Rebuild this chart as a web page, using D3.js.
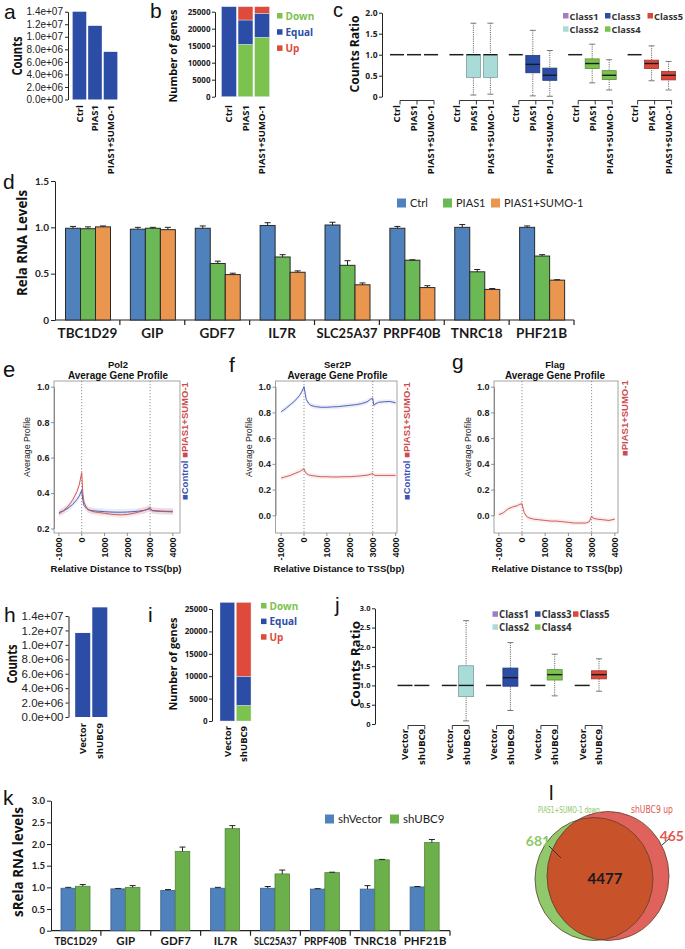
<!DOCTYPE html>
<html>
<head>
<meta charset="utf-8">
<script src="https://cdn.jsdelivr.net/npm/d3@7"></script>
<style>
html,body{margin:0;padding:0;background:#fff;}
svg{display:block;}
</style>
</head>
<body>
<svg id="fig" width="685" height="949" xmlns="http://www.w3.org/2000/svg"></svg>
<script>
// ================= DATA =================
// (a) counts
const aSamples = ["Ctrl", "PIAS1", "PIAS1+SUMO-1"];
const aCounts = [1.4e7, 1.175e7, 7.6e6];
const countTicks = [0, 2e6, 4e6, 6e6, 8e6, 1e7, 1.2e7, 1.4e7];
// (b) differential genes
const deKeys = ["Down", "Equal", "Up"];
const bDown = [0, 15400, 17470];
const bEqual = [26470, 7160, 7060];
const bUp = [0, 3910, 1940];
const geneTicks = [0, 5000, 10000, 15000, 20000, 25000];
// (c) counts ratio boxplots  [lowWhisker, q1, median, q3, highWhisker]
const classNames = ["Class1", "Class2", "Class3", "Class4", "Class5"];
const cConditions = ["Ctrl", "PIAS1", "PIAS1+SUMO-1"];
const cCtrl  = [[1,1,1,1,1],[1,1,1,1,1],[1,1,1,1,1],[1,1,1,1,1],[1,1,1,1,1]];
const cPIAS1 = [[1,1,1,1,1],[0.04,0.46,1.0,1.0,1.75],[0.02,0.57,0.77,0.98,1.58],[0.33,0.67,0.79,0.90,1.25],[0.38,0.67,0.79,0.87,1.21]];
const cSUMO  = [[1,1,1,1,1],[0.06,0.46,1.0,1.0,1.75],[0.01,0.39,0.51,0.68,1.10],[0.16,0.41,0.51,0.62,0.88],[0.16,0.40,0.51,0.60,0.84]];
const cTicks = [0, 0.5, 1.0, 1.5, 2.0];
// (d) qPCR
const qGenes = ["TBC1D29", "GIP", "GDF7", "IL7R", "SLC25A37", "PRPF40B", "TNRC18", "PHF21B"];
const dGroups = ["Ctrl", "PIAS1", "PIAS1+SUMO-1"];
const dCtrl     = [0.99, 0.98, 0.99, 1.02, 1.025, 0.99, 1.00, 1.00];
const dCtrlErr  = [0.02, 0.02, 0.025, 0.03, 0.03, 0.02, 0.03, 0.015];
const dPIAS1    = [0.985, 0.99, 0.61, 0.68, 0.59, 0.645, 0.52, 0.69];
const dPIAS1Err = [0.02, 0.01, 0.025, 0.025, 0.05, 0.005, 0.025, 0.015];
const dSUMO     = [1.005, 0.975, 0.49, 0.515, 0.38, 0.35, 0.33, 0.43];
const dSUMOErr  = [0.01, 0.025, 0.015, 0.015, 0.02, 0.02, 0.01, 0.005];
const dTicks = [0, 0.5, 1.0, 1.5];
// (e,f,g) average gene profiles
const profilePos = [-1000,-800,-600,-400,-200,-100,0,50,100,200,300,500,750,1000,1250,1500,1750,2000,2250,2500,2750,2900,3000,3050,3100,3250,3500,3750,4000];
const profileMarks = [0, 3000];
const profileTicks = [-1000, 0, 1000, 2000, 3000, 4000];
const pol2Control = [0.29,0.30,0.315,0.335,0.365,0.385,0.415,0.36,0.33,0.315,0.305,0.30,0.297,0.295,0.293,0.292,0.292,0.293,0.295,0.298,0.303,0.308,0.312,0.305,0.302,0.300,0.298,0.297,0.297];
const pol2SUMO    = [0.283,0.30,0.325,0.36,0.41,0.45,0.515,0.40,0.35,0.32,0.305,0.295,0.29,0.286,0.281,0.278,0.277,0.279,0.285,0.293,0.302,0.311,0.318,0.306,0.300,0.298,0.296,0.295,0.293];
const ser2Control = [0.805,0.83,0.86,0.89,0.93,0.96,1.0,0.95,0.90,0.87,0.855,0.845,0.84,0.84,0.843,0.845,0.85,0.855,0.86,0.868,0.882,0.902,0.91,0.855,0.865,0.878,0.883,0.885,0.875];
const ser2SUMO    = [0.29,0.30,0.31,0.325,0.34,0.35,0.36,0.34,0.325,0.315,0.31,0.305,0.30,0.30,0.298,0.298,0.30,0.30,0.303,0.307,0.312,0.318,0.325,0.315,0.31,0.31,0.31,0.31,0.31];
const flagSUMO    = [0.005,0.02,0.05,0.065,0.075,0.085,0.09,0.05,0.02,-0.01,-0.02,-0.03,-0.035,-0.04,-0.045,-0.045,-0.05,-0.055,-0.06,-0.06,-0.06,-0.05,-0.005,-0.02,-0.025,-0.03,-0.035,-0.04,-0.03];
const pol2Ticks = [0.2, 0.4, 0.6, 0.8, 1.0];
const ser2Ticks = [0.0, 0.2, 0.4, 0.6, 0.8, 1.0];
// (h) counts
const hSamples = ["Vector", "shUBC9"];
const hCounts = [1.165e7, 1.52e7];
// (i) differential genes
const iDown = [0, 3500];
const iEqual = [26470, 6500];
const iUp = [0, 16470];
// (j) counts ratio boxplots
const jConditions = ["Vector", "shUBC9"];
const jVector = [[1,1,1,1,1],[1,1,1,1,1],[1,1,1,1,1],[1,1,1,1,1],[1,1,1,1,1]];
const jShUBC9 = [[1,1,1,1,1],[0.08,0.71,1.0,1.51,2.68],[0.35,0.98,1.2,1.45,2.11],[0.73,1.14,1.28,1.41,1.81],[0.85,1.17,1.28,1.38,1.69]];
const jTicks = [0, 0.5, 1.0, 1.5, 2.0, 2.5, 3.0];
// (k) qPCR
const kGroups = ["shVector", "shUBC9"];
const kVector    = [0.98, 0.965, 0.93, 0.98, 0.98, 0.96, 0.96, 1.01];
const kVectorErr = [0.02, 0.01, 0.02, 0.02, 0.04, 0.01, 0.08, 0.01];
const kShUBC9    = [1.025, 1.0, 1.83, 2.355, 1.31, 1.34, 1.635, 2.035];
const kShUBC9Err = [0.04, 0.04, 0.1, 0.07, 0.09, 0.01, 0.01, 0.07];
const kTicks = [0, 0.5, 1.0, 1.5, 2.0, 2.5, 3.0];
// (l) Venn
const vennSets = ["PIAS1+SUMO-1 down", "shUBC9 up"];
const vennOnly = [681, 465];
const vennShared = 4477;

// ================= STYLE =================
const FA = "'Liberation Sans', Arial, Helvetica, sans-serif";
const FO = "'Open Sans', 'Liberation Sans', sans-serif";
const FC = "Lato, 'Open Sans', 'Liberation Sans', sans-serif";
const FN = "'Liberation Sans Narrow', 'DejaVu Sans Condensed', 'Liberation Sans', sans-serif";
const NAVY = "#2c4da6", DGREEN = "#7cc24f", DRED = "#de4b3a";
const deColors = { Down: DGREEN, Equal: NAVY, Up: DRED };
const classColors = ["#a07cc8", "#a9dcd8", "#2c4da6", "#7cc24f", "#d9483a"];
const qColors = ["#4f81bd", "#6bb956", "#ea964e"];
const kColors = ["#4f81bd", "#6cb04c"];
const LBLUE = "#3d52b5", LRED = "#cc4b4b";

const svg = d3.select("#fig");

function sci(v) {
  if (v === 0) return "0.0e+00";
  const e = Math.floor(Math.log10(v) + 1e-9);
  const m = v / Math.pow(10, e);
  return m.toFixed(1) + "e+" + String(e).padStart(2, "0");
}
const dec = v => v === 0 ? "0" : d3.format(".1f")(v);

function fit(sel, maxW) {
  sel.each(function () {
    if (this.getComputedTextLength() > maxW) {
      d3.select(this).attr("textLength", maxW).attr("lengthAdjust", "spacingAndGlyphs");
    }
  });
}
function txt(x, y, s, o = {}) {
  const t = svg.append("text").attr("x", x).attr("y", y).text(s)
    .attr("font-family", o.family || FA).attr("font-size", o.size || 11)
    .attr("font-weight", o.weight || "normal").attr("fill", o.fill || "#111")
    .attr("text-anchor", o.anchor || "start");
  if (o.len) t.attr("textLength", o.len).attr("lengthAdjust", "spacingAndGlyphs");
  return t;
}
function vtxt(cx, y, s, o = {}) {
  const size = o.size || 11;
  const t = svg.append("text")
    .attr("transform", `translate(${cx + size * 0.36},${y}) rotate(-90)`)
    .attr("text-anchor", o.anchor || "middle").text(s)
    .attr("font-family", o.family || FA).attr("font-size", size)
    .attr("font-weight", o.weight || "normal").attr("fill", o.fill || "#111");
  if (o.len) t.attr("textLength", o.len).attr("lengthAdjust", "spacingAndGlyphs");
  return t;
}
function leftAxis(x, scale, ticks, fmt, o = {}) {
  const g = svg.append("g").attr("transform", `translate(${x},0)`)
    .call(d3.axisLeft(scale).tickValues(ticks).tickFormat(fmt)
      .tickSize(o.tick || 4).tickSizeOuter(0).tickPadding(o.pad || 2));
  g.select(".domain").attr("stroke", o.color || "#222").attr("stroke-width", o.sw || 1);
  g.selectAll(".tick line").attr("stroke", o.color || "#222").attr("stroke-width", o.sw || 1);
  g.selectAll(".tick text").attr("font-family", o.family || FA).attr("font-size", o.size || 10)
    .attr("font-weight", o.weight || "bold").attr("fill", "#222");
  return g;
}
function panelLabel(t, x, y, size) {
  txt(x, y, t, { size: size || 21, family: FA, fill: "#111" });
}

// ================= PANEL a / h : counts =================
function countsPanel(o) {
  const y = d3.scaleLinear().domain([0, 1.4e7]).range(o.yr);
  leftAxis(o.axisX, y, countTicks, sci, { size: o.tickSize, weight: "normal", tick: 3, pad: 2 });
  const x = d3.scaleBand().domain(o.samples).range(o.xr).paddingInner(0.12).paddingOuter(0.04);
  svg.append("g").selectAll("rect").data(o.samples).join("rect")
    .attr("x", d => x(d)).attr("width", x.bandwidth())
    .attr("y", (d, i) => y(o.values[i])).attr("height", (d, i) => y(0) - y(o.values[i]))
    .attr("fill", NAVY);
  o.samples.forEach(s => vtxt(x(s) + x.bandwidth() / 2, o.labelY, s, { anchor: "end", size: 9.5, weight: "bold", family: FO }));
  vtxt(o.titleX, o.titleY, "Counts", { size: 14, weight: "bold", family: FO, len: 39 });
}
countsPanel({ samples: aSamples, values: aCounts, yr: [99.5, 11.7], axisX: 68, xr: [72, 118], labelY: 105, titleX: 17, titleY: 56, tickSize: 10 });
countsPanel({ samples: hSamples, values: hCounts, yr: [717, 616], axisX: 68.5, xr: [74.5, 108], labelY: 723, titleX: 12, titleY: 664, tickSize: 11.5 });
panelLabel("a", 4, 19);
panelLabel("h", 4, 622);

// ================= PANEL b / i : stacked =================
function stackPanel(o) {
  const y = d3.scaleLinear().domain([0, 25000]).range(o.yr);
  leftAxis(o.axisX, y, geneTicks, d3.format("d"), { size: 8, weight: "bold", family: FO, tick: 3, pad: 1.5 });
  const rows = o.samples.map((s, i) => ({ sample: s, Down: o.down[i], Equal: o.equal[i], Up: o.up[i] }));
  const stack = d3.stack().keys(deKeys)(rows);
  const x = d3.scaleBand().domain(o.samples).range(o.xr).paddingInner(0.1).paddingOuter(0.03);
  svg.append("g").selectAll("g").data(stack).join("g").attr("fill", d => deColors[d.key])
    .selectAll("rect").data(d => d).join("rect")
    .attr("x", d => x(d.data.sample)).attr("width", x.bandwidth())
    .attr("y", d => y(d[1])).attr("height", d => y(d[0]) - y(d[1]))
    .attr("stroke", "#e8ecf4").attr("stroke-width", 0.4);
  o.samples.forEach(s => vtxt(x(s) + x.bandwidth() / 2, o.labelY, s, { anchor: "end", size: 9.5, weight: "bold", family: FO }));
  vtxt(o.titleX, o.titleY, "Number of genes", { size: 11, weight: "bold", family: FO, len: 93 });
  const lg = svg.append("g").selectAll("g").data(deKeys).join("g")
    .attr("transform", (d, i) => `translate(${o.legX},${o.legY + i * o.legStep})`);
  lg.append("rect").attr("x", 0).attr("y", -3).attr("width", 5.5).attr("height", 5.5).attr("fill", d => deColors[d]);
  lg.append("text").attr("x", 8.5).attr("y", 3.5).text(d => d).attr("font-family", FO)
    .attr("font-size", 10).attr("font-weight", "bold").attr("fill", d => deColors[d]);
}
stackPanel({ samples: aSamples, down: bDown, equal: bEqual, up: bUp, yr: [96.7, 11.7], axisX: 215, xr: [221, 270], labelY: 105, titleX: 173, titleY: 56, legX: 277, legY: 16, legStep: 16.2 });
stackPanel({ samples: hSamples, down: iDown, equal: iEqual, up: iUp, yr: [721, 609], axisX: 212, xr: [219.5, 251.5], labelY: 726, titleX: 173, titleY: 664, legX: 261, legY: 606, legStep: 15.6 });
panelLabel("b", 150, 18);
panelLabel("i", 148, 622);

// ================= PANEL c / j : boxplots =================
function drawBox(g, cx, w, s, color, y) {
  const [lo, q1, med, q3, hi] = s;
  if (lo === hi) {
    g.append("line").attr("x1", cx - w / 2).attr("x2", cx + w / 2).attr("y1", y(med)).attr("y2", y(med))
      .attr("stroke", "#1e1e1e").attr("stroke-width", 1.5);
    return;
  }
  g.append("line").attr("x1", cx).attr("x2", cx).attr("y1", y(hi)).attr("y2", y(lo))
    .attr("stroke", "#555").attr("stroke-width", 0.9).attr("stroke-dasharray", "1.1,1.1");
  [lo, hi].forEach(v => g.append("line").attr("x1", cx - 3).attr("x2", cx + 3).attr("y1", y(v)).attr("y2", y(v))
    .attr("stroke", "#777").attr("stroke-width", 1));
  g.append("rect").attr("x", cx - w / 2).attr("y", y(q3)).attr("width", w).attr("height", y(q1) - y(q3))
    .attr("fill", color).attr("stroke", d3.color(color).darker(0.9)).attr("stroke-width", 0.8);
  g.append("line").attr("x1", cx - w / 2).attr("x2", cx + w / 2).attr("y1", y(med)).attr("y2", y(med))
    .attr("stroke", "#1a1a1a").attr("stroke-width", 1.4);
}
function boxPanel(o) {
  const y = d3.scaleLinear().domain([0, o.ticks[o.ticks.length - 1]]).range(o.yr);
  leftAxis(o.axisX, y, o.ticks, dec, { size: o.tickSize, weight: "bold", family: FO, tick: 3, pad: 1.5 });
  const gx = d3.scaleBand().domain(classNames).range(o.groupRange);
  const cx = d3.scaleBand().domain(o.conditions).range(o.innerRange);
  const g = svg.append("g");
  classNames.forEach((cls, ci) => {
    const xs = o.conditions.map(c => gx(cls) + cx(c) + cx.bandwidth() / 2);
    o.conditions.forEach((cond, k) => {
      drawBox(g, xs[k], o.boxW, o.series[k][ci], classColors[ci], y);
      vtxt(xs[k], o.labelY, cond, { anchor: "end", size: 9.5, weight: "bold", family: FO });
    });
    const by = o.bracketY;
    let p = `M${xs[0] + 3},${by + 4}V${by}H${xs[xs.length - 1] + 3}V${by + 4}`;
    xs.slice(1, -1).forEach(xx => { p += `M${xx + 3},${by}V${by + 4}`; });
    g.append("path").attr("d", p).attr("fill", "none").attr("stroke", "#222").attr("stroke-width", 0.9);
  });
  vtxt(o.titleX, o.titleY, "Counts Ratio", { size: 13, weight: "bold", family: FO, len: o.titleLen });
  const lg = svg.append("g").selectAll("g").data(classNames).join("g")
    .attr("transform", (d, i) => `translate(${o.legCols[i]},${o.legRows[i]})`);
  lg.append("rect").attr("x", 0).attr("y", -3).attr("width", 5.5).attr("height", 5.5).attr("fill", (d, i) => classColors[i]);
  lg.append("text").attr("x", 6.5).attr("y", 3.8).text(d => d).attr("font-family", FO)
    .attr("font-size", o.legSize).attr("font-weight", "bold").attr("fill", "#333")
    .attr("textLength", o.legLen).attr("lengthAdjust", "spacingAndGlyphs");
}
boxPanel({ conditions: cConditions, series: [cCtrl, cPIAS1, cSUMO], ticks: cTicks, yr: [96.7, 12.7], axisX: 382,
  groupRange: [388, 685], innerRange: [0.5, 51.5], boxW: 14, labelY: 105, bracketY: 100.5, tickSize: 8.5,
  titleX: 354, titleY: 54, titleLen: 77, legSize: 9.5, legLen: 29,
  legCols: [563, 563, 605, 605, 647.5], legRows: [16, 29.3, 16, 29.3, 16] });
boxPanel({ conditions: jConditions, series: [jVector, jShUBC9], ticks: jTicks, yr: [724, 608.3], axisX: 375,
  groupRange: [396, 617.5], innerRange: [0.6, 34.2], boxW: 15, labelY: 729, bracketY: 725.5, tickSize: 7.5,
  titleX: 355, titleY: 664, titleLen: 86, legSize: 10, legLen: 30,
  legCols: [492.5, 492.5, 535, 535, 573], legRows: [614.3, 627.3, 614.3, 627.3, 614.3] });
panelLabel("c", 333, 17, 20);
panelLabel("j", 335, 612);

// ================= PANEL d / k : qPCR bars =================
function qpcrPanel(o) {
  const y = d3.scaleLinear().domain([0, o.ticks[o.ticks.length - 1]]).range(o.yr);
  leftAxis(o.axisX, y, o.ticks, dec, { size: o.tickSize, weight: "bold", family: FC, tick: 4, pad: 2 });
  const x = d3.scaleBand().domain(qGenes).range([o.axisX, o.axisEnd]);
  const sub = d3.scaleBand().domain(o.groups).range(o.subRange);
  const y0 = y(0);
  svg.append("line").attr("x1", o.axisX).attr("x2", o.axisEnd).attr("y1", y0).attr("y2", y0).attr("stroke", "#222").attr("stroke-width", 1.2);
  svg.append("g").selectAll("line").data(qGenes).join("line")
    .attr("x1", d => x(d) + x.step()).attr("x2", d => x(d) + x.step())
    .attr("y1", y0).attr("y2", y0 + 5).attr("stroke", "#222").attr("stroke-width", 1.2);
  o.groups.forEach((grp, k) => {
    const vals = o.values[k], errs = o.errors[k];
    const g = svg.append("g");
    g.selectAll("rect").data(qGenes).join("rect")
      .attr("x", d => x(d) + sub(grp)).attr("width", sub.bandwidth())
      .attr("y", (d, i) => y(vals[i])).attr("height", (d, i) => y0 - y(vals[i]))
      .attr("fill", o.colors[k]).attr("stroke", o.stroke || d3.color(o.colors[k]).darker(0.8)).attr("stroke-width", o.sw || 0.8);
    g.selectAll("path").data(qGenes).join("path")
      .attr("d", (d, i) => {
        const cx = x(d) + sub(grp) + sub.bandwidth() / 2;
        const yt = y(vals[i] + errs[i]);
        return `M${cx},${y(vals[i])}V${yt}M${cx - 3},${yt}H${cx + 3}`;
      })
      .attr("stroke", "#222").attr("stroke-width", 1).attr("fill", "none");
  });
  const gl = svg.append("g").selectAll("text").data(qGenes).join("text")
    .attr("x", d => x(d) + x.bandwidth() / 2).attr("y", o.geneY).attr("text-anchor", "middle")
    .attr("font-family", FC).attr("font-size", o.geneSize).attr("font-weight", "bold").attr("fill", "#1a1a1a").text(d => d);
  fit(gl, x.step() - o.geneGap);
  vtxt(o.titleX, o.titleY, o.title, { size: 13.5, weight: "bold", family: FO, len: o.titleLen });
  const lg = svg.append("g").selectAll("g").data(o.groups).join("g")
    .attr("transform", (d, i) => `translate(${o.legX[i]},${o.legY})`);
  lg.append("rect").attr("x", 0).attr("y", -4.5).attr("width", 9).attr("height", 9).attr("fill", (d, i) => o.colors[i]);
  lg.append("text").attr("x", 13).attr("y", 4).text(d => d).attr("font-family", FC)
    .attr("font-size", o.legSize).attr("fill", "#222");
}
qpcrPanel({ groups: dGroups, values: [dCtrl, dPIAS1, dSUMO], errors: [dCtrlErr, dPIAS1Err, dSUMOErr], colors: qColors,
  ticks: dTicks, yr: [320, 181], axisX: 55, axisEnd: 574, subRange: [10.5, 55.5], tickSize: 10,
  stroke: "#2a2a2a", sw: 1, geneY: 338, geneSize: 13.5, geneGap: 4,
  title: "Rela RNA Levels", titleX: 22, titleY: 243, titleLen: 106,
  legX: [397, 443, 491], legY: 203, legSize: 11 });
qpcrPanel({ groups: kGroups, values: [kVector, kShUBC9], errors: [kVectorErr, kShUBC9Err], colors: kColors,
  ticks: kTicks, yr: [930.7, 800.7], axisX: 51, axisEnd: 450, subRange: [10, 39], tickSize: 9.5,
  sw: 0.8, geneY: 945, geneSize: 11.5, geneGap: 7,
  title: "sRela RNA levels", titleX: 18, titleY: 862, titleLen: 110,
  legX: [325, 390], legY: 819, legSize: 11.5 });
panelLabel("d", 3, 189);
panelLabel("k", 3, 805);

// ================= PANEL e / f / g : profiles =================
function profilePanel(o) {
  const x = d3.scaleLinear().domain([-1000, 4000]).range(o.xr);
  const y = d3.scaleLinear().domain(o.yd).range(o.yr);
  const by0 = 381, by1 = 533;
  const [bx0, bx1] = o.box;
  svg.append("rect").attr("x", bx0).attr("y", by0).attr("width", bx1 - bx0).attr("height", by1 - by0)
    .attr("fill", "none").attr("stroke", "#9a9a9a").attr("stroke-width", 0.9);
  svg.append("g").selectAll("line").data(profileMarks).join("line")
    .attr("x1", d => x(d)).attr("x2", d => x(d)).attr("y1", by0).attr("y2", by1)
    .attr("stroke", "#666").attr("stroke-width", 0.7).attr("stroke-dasharray", "1.2,1.8");
  leftAxis(bx0, y, o.yTicks, d3.format(".1f"), { size: 9, weight: "bold", family: FA, tick: 3, pad: 1.5, color: "#777", sw: 0.8 });
  svg.append("g").selectAll("line").data(profileTicks).join("line")
    .attr("x1", d => x(d)).attr("x2", d => x(d)).attr("y1", by1).attr("y2", by1 + 3)
    .attr("stroke", "#777").attr("stroke-width", 0.8);
  profileTicks.forEach(t => vtxt(x(t), by1 + 4.5, String(t), { anchor: "end", size: 9, weight: "bold", family: FA }));
  const area = d3.area().x((d, i) => x(profilePos[i])).y0(d => y(d - 0.018)).y1(d => y(d + 0.018));
  const line = d3.line().x((d, i) => x(profilePos[i])).y(d => y(d));
  svg.append("g").selectAll("path").data(o.series).join("path")
    .attr("d", d => area(d.values)).attr("fill", d => d.color).attr("opacity", 0.1);
  svg.append("g").selectAll("path").data(o.series).join("path")
    .attr("d", d => line(d.values)).attr("fill", "none").attr("stroke", d => d.color).attr("stroke-width", 0.9);
  txt(o.titleX, 367.5, o.name, { size: 9.5, weight: "bold", anchor: "middle" });
  txt(o.titleX, 378.5, "Average Gene Profile", { size: 10, weight: "bold", anchor: "middle", len: 100 });
  vtxt(o.yTitleX, 447, "Average Profile", { size: 9.5, family: FA, fill: "#222", len: 60 });
  txt(o.xTitleX, 571.5, "Relative Distance to TSS(bp)", { size: 9.5, weight: "bold", anchor: "middle", len: 131 });
  const lt = svg.append("text").attr("transform", `translate(${o.legX + 3.4},${o.legY}) rotate(-90)`)
    .attr("font-family", FA).attr("font-size", 9.5).attr("font-weight", "bold");
  o.series.forEach((s, i) => {
    lt.append("tspan").attr("fill", s.color).text((i > 0 ? " " : "") + "\u25A0" + s.label);
  });
}
profilePanel({ name: "Pol2", xr: [58.9, 172.9], box: [54, 180], yd: [0.2, 1.0], yr: [528.5, 386.7], yTicks: pol2Ticks,
  series: [{ label: "Control", color: LBLUE, values: pol2Control }, { label: "PIAS1+SUMO-1", color: LRED, values: pol2SUMO }],
  titleX: 118, yTitleX: 27, xTitleX: 116, legX: 185, legY: 500 });
profilePanel({ name: "Ser2P", xr: [281.1, 395.6], box: [275.5, 397], yd: [0, 1.0], yr: [515.3, 386.7], yTicks: ser2Ticks,
  series: [{ label: "Control", color: LBLUE, values: ser2Control }, { label: "PIAS1+SUMO-1", color: LRED, values: ser2SUMO }],
  titleX: 337.5, yTitleX: 249, xTitleX: 339, legX: 406.5, legY: 500 });
profilePanel({ name: "Flag", xr: [498.8, 614.8], box: [494, 618], yd: [0, 1.0], yr: [515.3, 386.7], yTicks: ser2Ticks,
  series: [{ label: "PIAS1+SUMO-1", color: LRED, values: flagSUMO }],
  titleX: 555, yTitleX: 468, xTitleX: 557, legX: 625, legY: 456 });
panelLabel("e", 3, 377, 22);
panelLabel("f", 229, 372, 21);
panelLabel("g", 452, 369, 21);

// ================= PANEL l : Venn =================
{
  const shapes = [
    { name: vennSets[0], cx: 594, cy: 879, rx: 59, ry: 61.5, fill: "#8fc96b" },
    { name: vennSets[1], cx: 608, cy: 876, rx: 61, ry: 64.5, fill: "#e0625c" }
  ];
  const defs = svg.append("defs");
  defs.append("clipPath").attr("id", "clipA").append("ellipse")
    .attr("cx", shapes[0].cx).attr("cy", shapes[0].cy).attr("rx", shapes[0].rx).attr("ry", shapes[0].ry);
  const g = svg.append("g");
  g.selectAll("ellipse.fill").data(shapes).join("ellipse").attr("class", "fill")
    .attr("cx", d => d.cx).attr("cy", d => d.cy).attr("rx", d => d.rx).attr("ry", d => d.ry).attr("fill", d => d.fill);
  g.append("ellipse").attr("cx", shapes[1].cx).attr("cy", shapes[1].cy).attr("rx", shapes[1].rx).attr("ry", shapes[1].ry)
    .attr("fill", "#c8532a").attr("clip-path", "url(#clipA)");
  g.selectAll("ellipse.edge").data(shapes).join("ellipse").attr("class", "edge")
    .attr("cx", d => d.cx).attr("cy", d => d.cy).attr("rx", d => d.rx).attr("ry", d => d.ry)
    .attr("fill", "none").attr("stroke", "#5a4030").attr("stroke-width", 0.8);
  txt(569, 813, vennSets[0], { size: 8.5, family: FN, fill: "#8cc866", anchor: "middle", len: 62 });
  txt(652, 813, vennSets[1], { size: 10, family: FN, fill: "#e05a50", anchor: "middle", len: 42 });
  txt(538, 846, String(vennOnly[0]), { size: 14, weight: "bold", family: FC, fill: "#8cc866", anchor: "middle" });
  txt(684, 841, String(vennOnly[1]), { size: 14, weight: "bold", family: FC, fill: "#e05a50", anchor: "end" });
  txt(605, 884, String(vennShared), { size: 15, weight: "bold", family: FC, fill: "#1a1a1a", anchor: "middle" });
  g.append("path").attr("d", "M549,846L561,858").attr("stroke", "#333").attr("stroke-width", 1);
  g.append("path").attr("d", "M670,838L662,845").attr("stroke", "#333").attr("stroke-width", 1);
  panelLabel("l", 549, 800, 20);
}
</script>
</body>
</html>
